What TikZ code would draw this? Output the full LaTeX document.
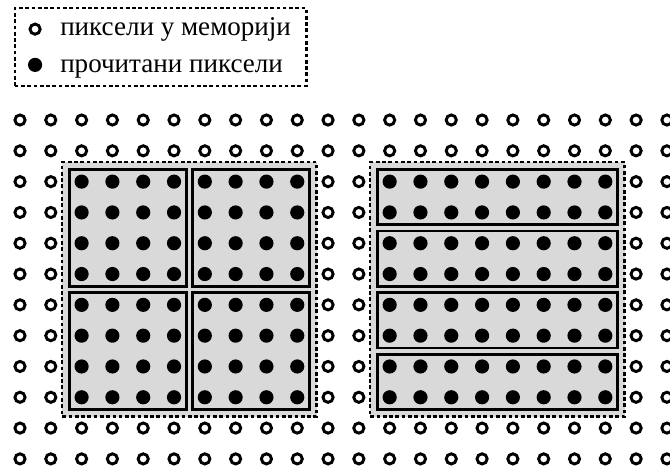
\documentclass[tikz,border=0pt]{standalone}
\usepackage{fontspec}
\setmainfont{Liberation Serif}
\usepackage{tikz}
\usetikzlibrary{positioning,fit,backgrounds}

\tikzset{
  mempx/.style={circle, draw, line width=2.7pt, minimum size=0.33cm, inner sep=0pt},
  readpx/.style={circle, fill, minimum size=0.46cm, inner sep=0pt},
  dotline/.style={line width=2.1pt, dash pattern=on 3.4pt off 2.4pt},
  region/.style={draw, dotline, fill=gray!30, inner sep=0.39cm},
  tile/.style={draw, line width=2.5pt, fill=gray!30, inner sep=0.16cm},
  keytext/.style={anchor=base west, inner sep=0pt, font=\fontsize{25}{30}\selectfont}
}

\begin{document}
\begin{tikzpicture}
\useasboundingbox (-0.649,3.896) rectangle (21.10,-11.234);

% legend
\node[mempx] (key-mem) at (0.49,2.95) {};
\node[readpx] (key-read) at (0.49,1.79) {};
\node[keytext] (lbl-mem) at (1.30,2.73) {пиксели у меморији};
\node[keytext] (lbl-read) at (1.30,1.54) {прочитани пиксели};
\draw[dotline] (-0.16,1.11) rectangle (9.30,3.63);

% pixel grid
\foreach \c in {0,...,21}
  \foreach \r in {0,...,11}{
    \pgfmathtruncatemacro{\inside}{(\r>1)*(\r<10)*((\c>1)*(\c<10)+(\c>11)*(\c<20))}
    \ifnum\inside=1
      \node[readpx] (px-\c-\r) at (\c,-\r) {};
    \else
      \node[mempx] (px-\c-\r) at (\c,-\r) {};
    \fi
  }

\begin{scope}[on background layer]
  % 4x4 tiles
  \node[region, fit=(px-2-2)(px-9-9)] (left-area) {};
  \node[tile, fit=(px-2-2)(px-5-5)] (tile-a) {};
  \node[tile, fit=(px-6-2)(px-9-5)] (tile-b) {};
  \node[tile, fit=(px-2-6)(px-5-9)] (tile-c) {};
  \node[tile, fit=(px-6-6)(px-9-9)] (tile-d) {};
  % 8x2 strips
  \node[region, fit=(px-12-2)(px-19-9)] (right-area) {};
  \foreach \r [count=\i] in {2,4,6,8}{
    \pgfmathtruncatemacro{\rr}{\r+1}
    \node[tile, fit=(px-12-\r)(px-19-\rr)] (strip-\i) {};
  }
\end{scope}
\end{tikzpicture}
\end{document}
